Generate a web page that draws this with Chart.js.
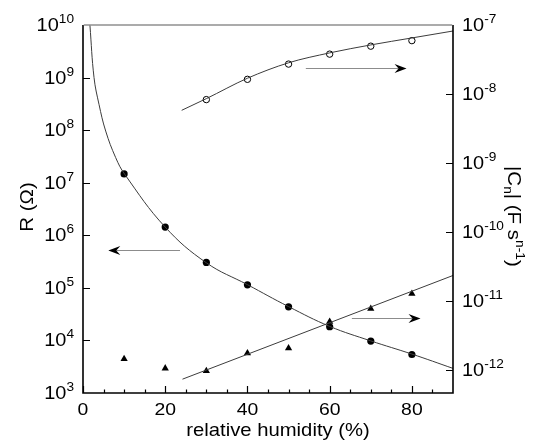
<!DOCTYPE html>
<html>
<head>
<meta charset="utf-8">
<script src="https://cdn.jsdelivr.net/npm/chart.js@4"></script>
<style>
  html, body { margin: 0; padding: 0; background: #fff; }
</style>
</head>
<body>
<canvas id="chart" width="537" height="444"></canvas>
<script>
// measured points
const humidity = [10, 20, 30, 40, 50, 60, 70, 80];
const resistance = [1.47e7, 1.43e6, 3.04e5, 1.14e5, 4.35e4, 1.82e4, 9.7e3, 5.4e3];
const cnSolid = [1.44e-12, 1.05e-12, 0.96e-12, 1.74e-12, 2.05e-12, 4.98e-12, 7.7e-12, 1.27e-11];
const humidityOpen = [30, 40, 50, 60, 70, 80];
const cnOpen = [8.28e-9, 1.63e-8, 2.71e-8, 3.78e-8, 4.93e-8, 5.93e-8];

// fitted curves
const rFitX = [1.68, 2.68, 3.89, 5.52, 7.95, 10.14, 20, 30, 40, 50, 60, 70, 80, 90];
const rFitY = [1e10, 1e9, 3.1e8, 9.6e7, 3.0e7, 1.45e7, 1.43e6, 3.0e5, 1.15e5, 4.4e4, 1.85e4, 9.8e3, 5.5e3, 2.94e3];
const openFitX = [24, 30, 40, 50, 60, 70, 80, 90];
const openFitY = [5.79e-9, 8.55e-9, 1.69e-8, 2.83e-8, 3.94e-8, 5.14e-8, 6.49e-8, 8.18e-8];
const solidFitX = [24.2, 90];
const solidFitY = [7.3e-13, 2.33e-11];

// axes
const xTicks = [0, 20, 40, 60, 80];
const xMinorTicks = [5, 10, 15, 25, 30, 35, 45, 50, 55, 65, 70, 75, 85];
const leftExponents = [3, 4, 5, 6, 7, 8, 9, 10];
const rightExponents = [-12, -11, -10, -9, -8, -7];
const RIGHT_MIN = 4.6e-13;
const RIGHT_MAX = 1e-7;

// arrows pointing at the axis each curve belongs to
const arrows = [
  { axis: 'y1', x0: 54.2, x1: 78.7, v: 2.37e-8 },
  { axis: 'y', x0: 23.6, x1: 6.15, v: 5.14e5 },
  { axis: 'y1', x0: 65.4, x1: 82.1, v: 5.72e-12 },
];

const FONT = '"Liberation Sans", Arial, sans-serif';
const STRETCH = 1.14; // the original lettering is a little wider than Arial
const pairs = (xs, ys) => xs.map((x, i) => ({ x, y: ys[i] }));

function richWidth(ctx, parts) {
  let w = 0;
  parts.forEach(p => {
    ctx.font = `${p.size}px ${FONT}`;
    w += ctx.measureText(p.t).width;
  });
  return w * STRETCH;
}

function drawRich(ctx, parts, x, y) {
  ctx.save();
  ctx.translate(x, y);
  ctx.scale(STRETCH, 1);
  let cx = 0;
  parts.forEach(p => {
    ctx.font = `${p.size}px ${FONT}`;
    ctx.fillText(p.t, cx, p.dy || 0);
    cx += ctx.measureText(p.t).width;
  });
  ctx.restore();
}

function arrowHead(ctx, x, y, dir) {
  ctx.beginPath();
  ctx.moveTo(x, y);
  ctx.lineTo(x - dir * 12, y - 4.5);
  ctx.lineTo(x - dir * 8, y);
  ctx.lineTo(x - dir * 12, y + 4.5);
  ctx.closePath();
  ctx.fill();
}

const decorations = {
  id: 'decorations',
  afterDraw(chart) {
    const { ctx, chartArea: a, scales } = chart;
    const sx = scales.x, sy = scales.y, sy1 = scales.y1;
    ctx.save();

    // arrows
    arrows.forEach(ar => {
      const scale = ar.axis === 'y' ? sy : sy1;
      const py = Math.round(scale.getPixelForValue(ar.v)) + 0.5;
      const p0 = sx.getPixelForValue(ar.x0);
      const p1 = sx.getPixelForValue(ar.x1);
      const dir = p1 > p0 ? 1 : -1;
      ctx.strokeStyle = '#8c8c8c';
      ctx.lineWidth = 1;
      ctx.beginPath();
      ctx.moveTo(p0, py);
      ctx.lineTo(p1 - dir * 8, py);
      ctx.stroke();
      ctx.fillStyle = '#000';
      arrowHead(ctx, p1, py, dir);
    });

    // frame
    ctx.strokeStyle = '#000';
    ctx.lineWidth = 1.6;
    ctx.beginPath();
    ctx.moveTo(a.left, a.top);
    ctx.lineTo(a.left, a.bottom);
    ctx.lineTo(a.right, a.bottom);
    ctx.lineTo(a.right, a.top);
    ctx.stroke();
    ctx.strokeStyle = '#8f8f8f';
    ctx.lineWidth = 1.5;
    ctx.beginPath();
    ctx.moveTo(a.left + 0.8, a.top);
    ctx.lineTo(a.right - 0.8, a.top);
    ctx.stroke();

    // ticks
    ctx.strokeStyle = '#000';
    ctx.lineWidth = 1.2;
    ctx.beginPath();
    xTicks.forEach(v => {
      const px = Math.round(sx.getPixelForValue(v)) + 0.5;
      ctx.moveTo(px, a.bottom);
      ctx.lineTo(px, a.bottom - 7);
    });
    xMinorTicks.forEach(v => {
      const px = Math.round(sx.getPixelForValue(v)) + 0.5;
      ctx.moveTo(px, a.bottom);
      ctx.lineTo(px, a.bottom - 3.5);
    });
    leftExponents.slice(1, -1).forEach(e => {
      const py = Math.round(sy.getPixelForValue(Math.pow(10, e))) + 0.5;
      ctx.moveTo(a.left, py);
      ctx.lineTo(a.left + 7, py);
    });
    rightExponents.slice(0, -1).forEach(e => {
      const py = Math.round(sy1.getPixelForValue(Math.pow(10, e))) + 0.5;
      ctx.moveTo(a.right, py);
      ctx.lineTo(a.right - 7, py);
    });
    ctx.stroke();

    // tick labels
    ctx.fillStyle = '#000';
    ctx.textBaseline = 'alphabetic';
    ctx.textAlign = 'left';
    xTicks.forEach(v => {
      const parts = [{ t: String(v), size: 17 }];
      drawRich(ctx, parts, sx.getPixelForValue(v) - richWidth(ctx, parts) / 2, 415);
    });
    leftExponents.forEach(e => {
      const py = sy.getPixelForValue(Math.pow(10, e));
      const parts = [{ t: '10', size: 17.5 }, { t: String(e), size: 12, dy: -8 }];
      drawRich(ctx, parts, 74 - richWidth(ctx, parts), py + 6);
    });
    rightExponents.forEach(e => {
      const py = sy1.getPixelForValue(Math.pow(10, e));
      const parts = [{ t: '10', size: 17.5 }, { t: String(e), size: 12, dy: -8 }];
      drawRich(ctx, parts, 462, py + 6);
    });

    // axis titles
    const xTitle = [{ t: 'relative humidity (%)', size: 17.8 }];
    drawRich(ctx, xTitle, 278 - richWidth(ctx, xTitle) / 2, 436);

    ctx.save();
    ctx.translate(33, 207);
    ctx.rotate(-Math.PI / 2);
    const rParts = [{ t: 'R (\u03A9)', size: 18 }];
    drawRich(ctx, rParts, -richWidth(ctx, rParts) / 2, 0);
    ctx.restore();

    ctx.save();
    ctx.translate(508, 166);
    ctx.rotate(Math.PI / 2);
    drawRich(ctx, [
      { t: '|C', size: 18 },
      { t: 'n', size: 12, dy: 4 },
      { t: '| (F s', size: 18 },
      { t: 'n-1', size: 12, dy: -8 },
      { t: ')', size: 18 },
    ], 0, 0);
    ctx.restore();

    ctx.restore();
  },
};

const fitLine = {
  showLine: true,
  borderColor: '#3c3c3c',
  borderWidth: 1,
  pointRadius: 0,
  cubicInterpolationMode: 'monotone',
};

new Chart(document.getElementById('chart'), {
  type: 'scatter',
  data: {
    datasets: [
      { ...fitLine, data: pairs(rFitX, rFitY), yAxisID: 'y', cubicInterpolationMode: 'default', tension: 0.4 },
      { ...fitLine, data: pairs(openFitX, openFitY), yAxisID: 'y1' },
      { ...fitLine, data: pairs(solidFitX, solidFitY), yAxisID: 'y1' },
      {
        data: pairs(humidity, resistance), yAxisID: 'y',
        pointStyle: 'circle', pointRadius: 3.6, backgroundColor: '#000', borderColor: '#000', borderWidth: 0,
      },
      {
        data: pairs(humidity, cnSolid), yAxisID: 'y1',
        pointStyle: 'triangle', pointRadius: 4.2, backgroundColor: '#000', borderColor: '#000', borderWidth: 0,
      },
      {
        data: pairs(humidityOpen, cnOpen), yAxisID: 'y1',
        pointStyle: 'circle', pointRadius: 3.2, backgroundColor: '#fff', borderColor: '#000', borderWidth: 1,
      },
    ],
  },
  options: {
    responsive: false,
    animation: false,
    layout: { padding: { top: 25, left: 0, right: 0, bottom: 0 } },
    plugins: { legend: { display: false }, tooltip: { enabled: false } },
    scales: {
      x: {
        type: 'linear', min: 0, max: 90,
        grid: { display: false }, border: { display: false }, ticks: { display: false },
        afterFit: s => { s.height = 51; },
      },
      y: {
        type: 'logarithmic', position: 'left', min: 1e3, max: 1e10,
        grid: { display: false }, border: { display: false }, ticks: { display: false },
        afterBuildTicks: s => {
          s.min = 1e3; s.max = 1e10;
          s.ticks = leftExponents.map(e => ({ value: Math.pow(10, e) }));
        },
        afterFit: s => { s.width = 83; },
      },
      y1: {
        type: 'logarithmic', position: 'right', min: RIGHT_MIN, max: RIGHT_MAX,
        grid: { display: false }, border: { display: false }, ticks: { display: false },
        afterBuildTicks: s => {
          s.min = RIGHT_MIN; s.max = RIGHT_MAX;
          s.ticks = rightExponents.map(e => ({ value: Math.pow(10, e) }));
        },
        afterFit: s => { s.width = 84; },
      },
    },
  },
  plugins: [decorations],
});
</script>
</body>
</html>
